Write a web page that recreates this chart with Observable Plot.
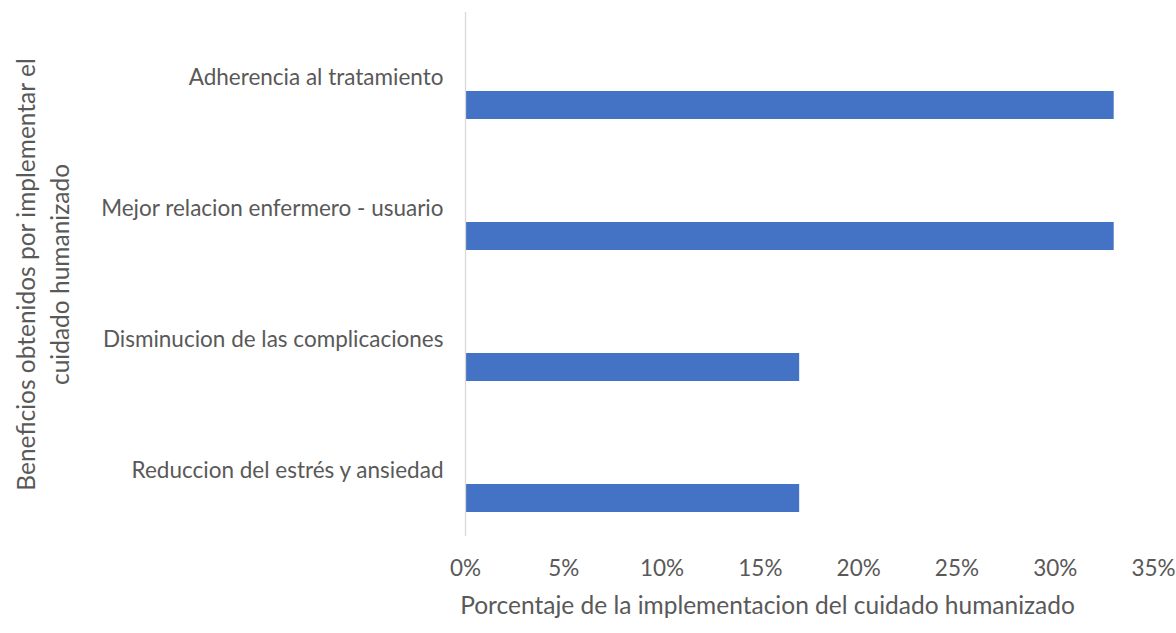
<!DOCTYPE html>
<html>
<head>
<meta charset="utf-8">
<script src="https://cdn.jsdelivr.net/npm/d3@7"></script>
<script src="https://cdn.jsdelivr.net/npm/@observablehq/plot@0.6"></script>
<style>
  html, body { margin: 0; padding: 0; background: #fff; }
  #chart svg { display: block; }
</style>
</head>
<body>
<div id="chart"></div>
<script>
const categories = [
  "Adherencia al tratamiento",
  "Mejor relacion enfermero - usuario",
  "Disminucion de las complicaciones",
  "Reduccion del estrés y ansiedad"
];
const values = [0.33, 0.33, 0.17, 0.17];
const xTicks = [0, 0.05, 0.10, 0.15, 0.20, 0.25, 0.30, 0.35];
const xTitle = "Porcentaje de la implementacion del cuidado humanizado";
const yTitle = "Beneficios obtenidos por implementar el\ncuidado humanizado";

const data = categories.map((c, i) => ({category: c, value: values[i]}));
const textColor = "#595959";
const font = "Lato, 'Open Sans', sans-serif";

const chart = Plot.plot({
  width: 1176,
  height: 633,
  marginLeft: 465,
  marginRight: 23,
  marginTop: 12,
  marginBottom: 97,
  style: {fontFamily: font, color: textColor, background: "#fff"},
  x: {domain: [0, 0.35], ticks: xTicks, tickFormat: d3.format(".0%"), label: null},
  y: {domain: categories, padding: 0, label: null},
  marks: [
    Plot.axisX({ticks: xTicks, tickFormat: d3.format(".0%"), tickSize: 0, tickPadding: 24, fontSize: 22.5, fill: textColor, label: null}),
    Plot.axisY({tickSize: 0, tickPadding: 22, fontSize: 22.5, fill: textColor, label: null}),
    Plot.barX(data, {x: "value", y: "category", fill: "#4472C4", insetTop: 79, insetBottom: 24}),
    Plot.ruleX([0], {stroke: "#d9d9d9", strokeWidth: 1.3}),
    Plot.text([xTitle], {frameAnchor: "bottom", text: d => d, dx: -42, dy: 70, lineAnchor: "middle", textAnchor: "middle", fontSize: 24.5, fill: textColor}),
    Plot.text([yTitle], {frameAnchor: "left", text: d => d, dx: -424, rotate: -90, lineAnchor: "middle", textAnchor: "middle", lineHeight: 1.39, fontSize: 24.5, fill: textColor})
  ]
});
document.getElementById("chart").appendChild(chart);
</script>
</body>
</html>
